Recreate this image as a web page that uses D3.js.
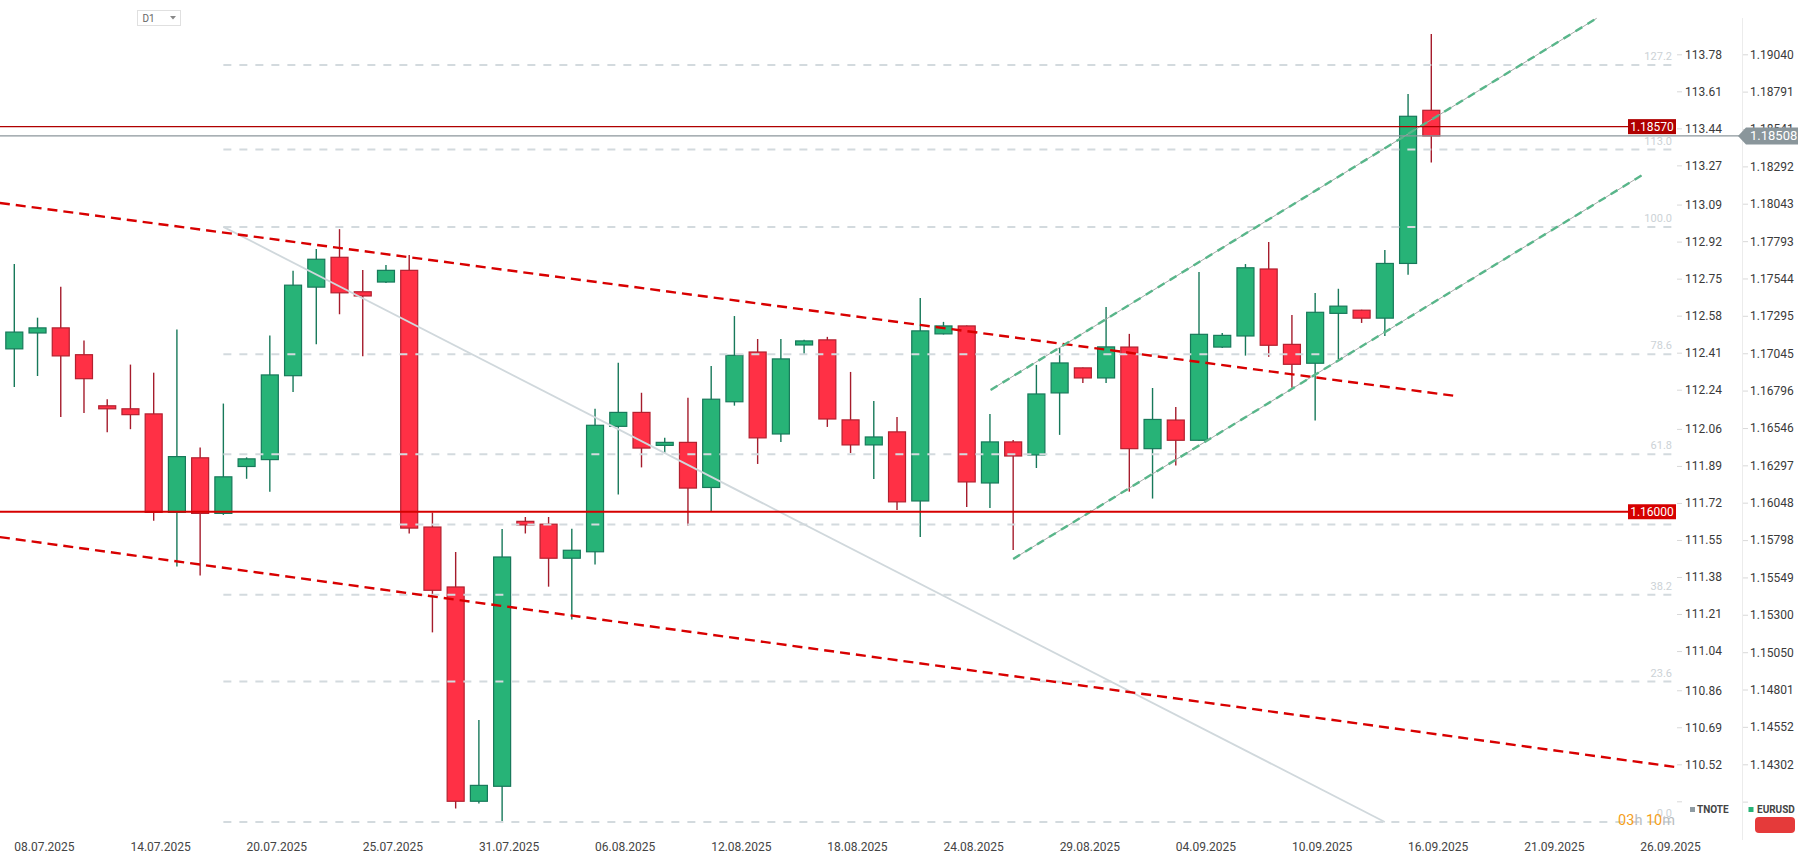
<!DOCTYPE html>
<html><head><meta charset="utf-8">
<script src="https://cdn.jsdelivr.net/npm/d3@7"></script>
<style>
html,body{margin:0;padding:0;background:#fff;}
svg{display:block;font-family:Roboto,"Noto Sans",sans-serif;}
</style></head><body>
<svg id="chart" width="1810" height="865"></svg>
<script>
// ---- DATA ----
const opens  = [1.17087,1.17193,1.17227,1.17048,1.16707,1.16687,1.16653,1.15996,1.16360,1.15989,1.16302,1.16348,1.16908,1.17499,1.17698,1.17468,1.17533,1.17611,1.15898,1.15498,1.14068,1.14168,1.15936,1.15917,1.15690,1.15733,1.16570,1.16663,1.16443,1.16463,1.16162,1.16734,1.17066,1.16519,1.17113,1.17147,1.16613,1.16446,1.16533,1.16072,1.17187,1.17240,1.16192,1.16466,1.16379,1.16793,1.16960,1.16893,1.17099,1.16421,1.16612,1.16477,1.17099,1.17173,1.17620,1.17117,1.16991,1.17324,1.17345,1.17292,1.17657,1.18679];
const highs  = [1.17654,1.17295,1.17502,1.17143,1.16750,1.16982,1.16928,1.17217,1.16429,1.16722,1.16363,1.17176,1.17608,1.17754,1.17886,1.17614,1.17647,1.17714,1.15995,1.15731,1.14611,1.15885,1.15965,1.15965,1.15886,1.16687,1.16994,1.16794,1.16493,1.16760,1.16972,1.17306,1.17153,1.17153,1.17147,1.17167,1.16933,1.16739,1.16633,1.17427,1.17267,1.17243,1.16653,1.16479,1.16980,1.17093,1.16963,1.17367,1.17187,1.16826,1.16699,1.17600,1.17193,1.17653,1.17800,1.17313,1.17460,1.17488,1.17348,1.17747,1.18788,1.19188];
const lows   = [1.16832,1.16906,1.16633,1.16659,1.16531,1.16551,1.15940,1.15634,1.15574,1.15979,1.16220,1.16134,1.16799,1.17117,1.17318,1.17038,1.17527,1.15855,1.15195,1.14019,1.14053,1.13930,1.15855,1.15500,1.15281,1.15648,1.16115,1.16296,1.16393,1.15909,1.16000,1.16708,1.16319,1.16466,1.17053,1.16566,1.16392,1.16219,1.16012,1.15832,1.17183,1.16032,1.16025,1.15745,1.16292,1.16513,1.16860,1.16860,1.16134,1.16088,1.16308,1.16473,1.17093,1.17042,1.17034,1.16828,1.16609,1.17018,1.17260,1.17173,1.17582,1.18330];
const closes = [1.17199,1.17227,1.17040,1.16888,1.16687,1.16648,1.15996,1.16368,1.15989,1.16233,1.16353,1.16913,1.17512,1.17685,1.17461,1.17440,1.17611,1.15891,1.15476,1.14068,1.14174,1.15698,1.15912,1.15690,1.15743,1.16577,1.16663,1.16425,1.16463,1.16158,1.16751,1.17044,1.16493,1.17020,1.17140,1.16619,1.16446,1.16499,1.16066,1.17207,1.17240,1.16199,1.16466,1.16372,1.16786,1.16993,1.16893,1.17100,1.16421,1.16616,1.16477,1.17184,1.17177,1.17628,1.17111,1.16984,1.17331,1.17372,1.17292,1.17657,1.18639,1.18508];

const dateLabels = ["08.07.2025","14.07.2025","20.07.2025","25.07.2025","31.07.2025","06.08.2025","12.08.2025","18.08.2025","24.08.2025","29.08.2025","04.09.2025","10.09.2025","16.09.2025","21.09.2025","26.09.2025"];
const dateLabelIdx = [0,5,10,15,20,25,30,35,40,45,50,55,60,65,70];

const eurTicks = [1.19040,1.18791,1.18541,1.18292,1.18043,1.17793,1.17544,1.17295,1.17045,1.16796,1.16546,1.16297,1.16048,1.15798,1.15549,1.15300,1.15050,1.14801,1.14552,1.14302,1.14053];
const tnoteTicks = [113.78,113.61,113.44,113.27,113.09,112.92,112.75,112.58,112.41,112.24,112.06,111.89,111.72,111.55,111.38,111.21,111.04,110.86,110.69,110.52,110.35];

const fibLevels = [0,23.6,38.2,50,61.8,78.6,100,113,127.2];
const fibLabelLevels = [0,23.6,38.2,61.8,78.6,100,113,127.2];
const fibAnchor = {startIdx:9, startPrice:1.17901, endIdx:59, endPrice:1.13930};

const priceLines = [
  {price:1.18570, label:"1.18570", color:"#b00000", width:1.3},
  {price:1.16000, label:"1.16000", color:"#d60000", width:2}
];
const currentPrice = 1.18508;

const redTrend = [
  [[-0.62,1.18061],[62.02,1.16773]],
  [[-0.62,1.15831],[71.49,1.14297]]
];
const greenChannel = [
  [[42.03,1.16813],[68.12,1.19293]],
  [[43.0,1.15685],[70.05,1.18244]]
];

// ---- SCALES ----
const svg = d3.select("#chart");
const plotRight = 1676;
const y = d3.scaleLinear().domain([1.14302,1.19040]).range([766.2,56.2]);
const yT = d3.scaleLinear().domain([110.52,113.78]).range([764.3,54.3]);
const x = d3.scaleLinear().domain([0,61]).range([14.3,1431.3]);
const bodyW = 18;

const defs = svg.append("defs");
defs.append("clipPath").attr("id","plotclip").append("rect").attr("x",0).attr("y",0).attr("width",plotRight).attr("height",838);

const plot = svg.append("g").attr("clip-path","url(#plotclip)");

// candles
const idx = d3.range(opens.length);
const up = i => closes[i] >= opens[i];
const cg = plot.append("g");
cg.selectAll("line.wick").data(idx).join("line")
  .attr("x1",i=>x(i)).attr("x2",i=>x(i))
  .attr("y1",i=>y(highs[i])).attr("y2",i=>y(lows[i]))
  .attr("stroke",i=>up(i)?"#17795a":"#a51c2c").attr("stroke-width",1.4);
cg.selectAll("rect.body").data(idx).join("rect")
  .attr("x",i=>x(i)-bodyW/2+0.5)
  .attr("y",i=>y(Math.max(opens[i],closes[i])))
  .attr("width",bodyW-1)
  .attr("height",i=>Math.max(1,Math.abs(y(opens[i])-y(closes[i]))))
  .attr("fill",i=>up(i)?"#27b377":"#ff3045")
  .attr("stroke",i=>up(i)?"#17795a":"#b3202f").attr("stroke-width",1.2);

// fib levels
const fibPrice = l => fibAnchor.endPrice + (fibAnchor.startPrice-fibAnchor.endPrice)*l/100;
const fg = plot.append("g");
fg.selectAll("line").data(fibLevels).join("line")
  .attr("x1",x(fibAnchor.startIdx)).attr("x2",1672)
  .attr("y1",l=>y(fibPrice(l))).attr("y2",l=>y(fibPrice(l)))
  .attr("stroke","#d3dade").attr("stroke-width",2).attr("stroke-dasharray","8,8");
// fib diagonal
plot.append("line")
  .attr("x1",x(fibAnchor.startIdx)).attr("y1",y(fibAnchor.startPrice))
  .attr("x2",x(fibAnchor.endIdx)).attr("y2",y(fibAnchor.endPrice))
  .attr("stroke","#d0d8dc").attr("stroke-width",1.8);

// red dashed trend lines
plot.selectAll("line.rt").data(redTrend).join("line")
  .attr("x1",d=>x(d[0][0])).attr("y1",d=>y(d[0][1]))
  .attr("x2",d=>x(d[1][0])).attr("y2",d=>y(d[1][1]))
  .attr("stroke","#d80000").attr("stroke-width",2.4).attr("stroke-dasharray","10,6");

// green channel
plot.selectAll("line.gc").data(greenChannel).join("line")
  .attr("x1",d=>x(d[0][0])).attr("y1",d=>y(d[0][1]))
  .attr("x2",d=>x(d[1][0])).attr("y2",d=>y(d[1][1]))
  .attr("stroke","#a4a8a6").attr("stroke-width",1);
plot.selectAll("line.gc2").data(greenChannel).join("line")
  .attr("x1",d=>x(d[0][0])).attr("y1",d=>y(d[0][1]))
  .attr("x2",d=>x(d[1][0])).attr("y2",d=>y(d[1][1]))
  .attr("stroke","#58b68a").attr("stroke-width",2.4).attr("stroke-dasharray","8,6");

// fib labels
svg.append("g").selectAll("text").data(fibLabelLevels).join("text")
  .attr("x",1672).attr("y",l=>y(fibPrice(l))-5)
  .attr("text-anchor","end").attr("font-size",11).attr("fill","#ccd2d6")
  .text(l=>l.toFixed(1));

// countdown
const cd = svg.append("text").attr("x",1675).attr("y",825).attr("text-anchor","end").attr("font-size",14.5);
[["03","#f5a01a"],["h ","#b9bdbf"],["10","#f5a01a"],["m","#b9bdbf"]].forEach(p=>cd.append("tspan").attr("fill",p[1]).text(p[0]));

// horizontal price lines
priceLines.forEach(p=>{
  svg.append("line").attr("x1",0).attr("x2",1628).attr("y1",y(p.price)).attr("y2",y(p.price))
    .attr("stroke",p.color).attr("stroke-width",p.width);
  svg.append("rect").attr("x",1628).attr("y",y(p.price)-7.5).attr("width",48).attr("height",15).attr("fill",p.color);
  svg.append("text").attr("x",1652).attr("y",y(p.price)+4.5).attr("text-anchor","middle")
    .attr("font-size",12).attr("fill","#fff").text(p.label);
});
svg.append("line").attr("x1",0).attr("x2",1740).attr("y1",y(currentPrice)).attr("y2",y(currentPrice))
  .attr("stroke","#8b969b").attr("stroke-width",1.3);

// axes
const axT = d3.axisRight(yT).tickValues(tnoteTicks).tickSize(5).tickPadding(3)
  .tickFormat((d,i)=> i===tnoteTicks.length-1 ? "" : d.toFixed(2));
const gT = svg.append("g").attr("transform","translate(1677,0)").call(axT);
const axE = d3.axisRight(y).tickValues(eurTicks).tickSize(5).tickPadding(2)
  .tickFormat((d,i)=> i===eurTicks.length-1 ? "" : d.toFixed(5));
const gE = svg.append("g").attr("transform","translate(1743,-1.9)").call(axE);
[gT,gE].forEach(g=>{
  g.select(".domain").remove();
  g.selectAll(".tick line").attr("stroke","#d8d8d8");
  g.selectAll(".tick text").attr("font-size",12).attr("fill","#3a3a3a").attr("font-family","Roboto");
});
svg.append("line").attr("x1",1742.5).attr("x2",1742.5).attr("y1",18).attr("y2",840).attr("stroke","#ececec");

// current price tag
const cy = y(currentPrice);
svg.append("path").attr("d",`M1738,${cy} L1746,${cy-8.5} L1798,${cy-8.5} L1798,${cy+8.5} L1746,${cy+8.5} Z`).attr("fill","#8a969b");
svg.append("text").attr("x",1750).attr("y",cy+4.5).attr("font-size",13).attr("fill","#fff").text(currentPrice.toFixed(5));

// x axis labels
const xl = svg.append("g");
xl.selectAll("text").data(dateLabelIdx).join("text")
  .attr("x",i=>x(i)).attr("y",851).attr("font-size",12).attr("fill","#444")
  .text((d,i)=>dateLabels[i]);

// legend
svg.append("rect").attr("x",1690).attr("y",807).attr("width",5).attr("height",5).attr("fill","#8e9ba2");
svg.append("text").attr("x",1697).attr("y",813).attr("font-size",10).attr("font-weight","bold").attr("fill","#444").text("TNOTE");
svg.append("rect").attr("x",1748.5).attr("y",807).attr("width",5).attr("height",5).attr("fill","#27b377");
svg.append("text").attr("x",1757).attr("y",813).attr("font-size",10).attr("font-weight","bold").attr("fill","#444").text("EURUSD");
svg.append("rect").attr("x",1755).attr("y",817).attr("width",40).attr("height",16).attr("rx",4).attr("fill","#e53a3a");

// D1 selector
svg.append("rect").attr("x",137.5).attr("y",10.5).attr("width",43).attr("height",15).attr("fill","#fff").attr("stroke","#e0e0e0");
svg.append("text").attr("x",142.5).attr("y",22).attr("font-size",10).attr("fill","#666").text("D1");
svg.append("path").attr("d","M170,16 L176,16 L173,19.5 Z").attr("fill","#888");
</script>
</body></html>
